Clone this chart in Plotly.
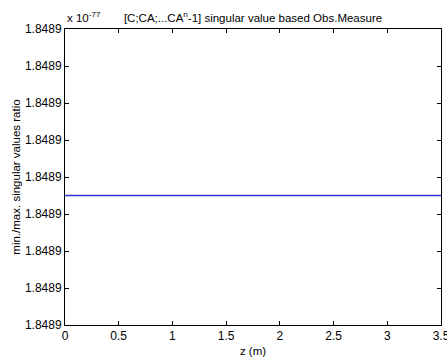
import plotly.graph_objects as go

# Data (ratio in units of 1e-77)
z = [0.0, 3.5]
ratio = [1.848935, 1.848935]
x_ticks = [0, 0.5, 1, 1.5, 2, 2.5, 3, 3.5]
x_tick_labels = ["0", "0.5", "1", "1.5", "2", "2.5", "3", "3.5"]
y_ticks = [1.84890 + k * 0.00001 for k in range(9)]
y_tick_labels = ["1.8489"] * 9

font = "Liberation Sans, Arial, sans-serif"

fig = go.Figure()
fig.add_trace(go.Scatter(x=z, y=ratio, mode="lines",
                         line=dict(color="#3030d0", width=1.3), showlegend=False))

fig.update_layout(
    width=447, height=360,
    margin=dict(l=65, r=6, t=29, b=35, autoexpand=False),
    paper_bgcolor="white", plot_bgcolor="white",
    font=dict(family=font, size=12, color="black"),
    title=dict(text="[C;CA;...CA<sup>n</sup>-1] singular value based Obs.Measure",
               x=0.5, xref="paper", y=1, yref="paper", yanchor="bottom",
               pad=dict(b=7), font=dict(size=11.5)),
    xaxis=dict(range=[0, 3.5], tickvals=x_ticks, ticktext=x_tick_labels,
               ticks="inside", ticklen=4, tickcolor="black",
               showline=True, linecolor="black", linewidth=1, mirror="ticks",
               showgrid=False, zeroline=False, automargin=False,
               ticklabeloverflow="allow", tickfont=dict(size=12),
               title=dict(text="z (m)", standoff=4, font=dict(size=11.5))),
    yaxis=dict(range=[1.84890, 1.84898], tickvals=y_ticks, ticktext=y_tick_labels,
               ticks="inside", ticklen=4, tickcolor="black",
               showline=True, linecolor="black", linewidth=1, mirror="ticks",
               showgrid=False, zeroline=False, automargin=False,
               ticklabeloverflow="allow", tickfont=dict(size=12),
               title=dict(text="min./max. singular values ratio", standoff=1,
                          font=dict(size=11.5))),
    annotations=[dict(text="x 10<sup>-77</sup>", xref="paper", yref="paper",
                      x=0, y=1, xanchor="left", yanchor="bottom", yshift=3,
                      showarrow=False, font=dict(size=11.5))],
)

fig.write_html(
    "out.html",
    config={"displayModeBar": False},
    post_script="document.body.style.margin='0';document.body.style.padding='0';"
                "document.body.style.overflow='hidden';",
)
